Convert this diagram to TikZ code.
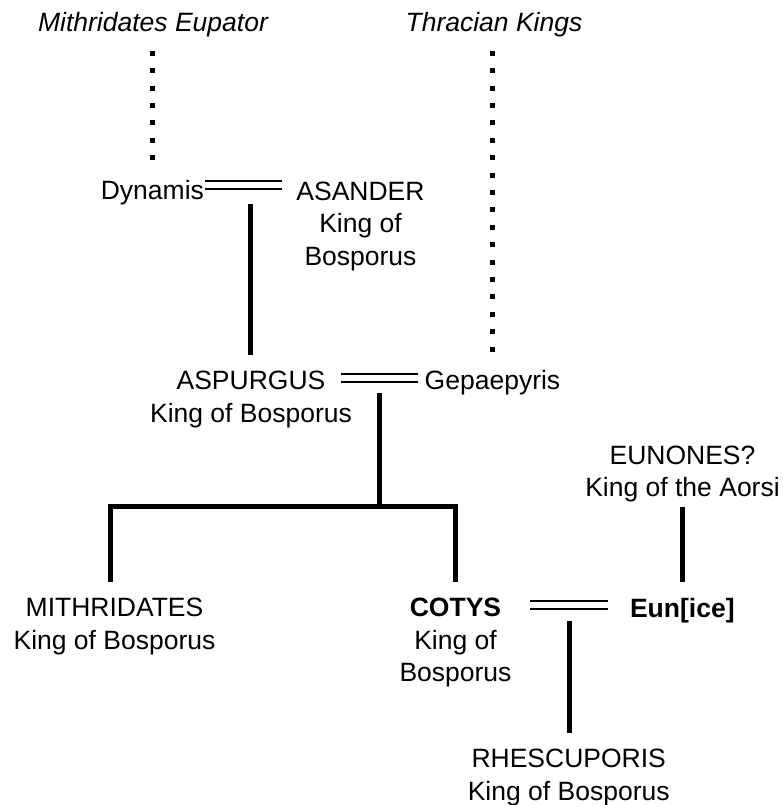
\documentclass[tikz,border=0pt]{standalone}
\usepackage{fontspec}
\setmainfont{Liberation Sans}
\begin{document}
\begin{tikzpicture}[x=1pt,y=-1pt,
  person/.style={anchor=base,align=center,inner sep=0pt,
    font=\fontsize{26.5}{32.5}\selectfont},
  line/.style={line width=5pt},
  wed/.style={line width=1.8pt},
  lineage/.style={line width=5pt,dash pattern=on 5pt off 12.4pt}]
\useasboundingbox (0,0) rectangle (782,805);

% ancestral houses (placed at the baseline of their last line)
\node[person,font=\fontsize{26.5}{32.5}\selectfont\itshape] (eupator) at (153,32) {Mithridates Eupator};
\node[person,font=\fontsize{26.5}{32.5}\selectfont\itshape] (thrace) at (494,32) {Thracian Kings};

% persons
\node[person] (dynamis) at (152.4,200) {Dynamis};
\node[person] (asander) at (360.5,265) {ASANDER\\King of\\Bosporus};
\node[person] (aspurgus) at (251,422) {ASPURGUS\\King of Bosporus};
\node[person] (gepaepyris) at (492.5,389) {Gepaepyris};
\node[person] (eunones) at (682.5,496.7) {EUNONES?\\King of the Aorsi};
\node[person] (mithridates) at (114.5,649) {MITHRIDATES\\King of Bosporus};
\node[person] (cotys) at (455.5,681.7) {\textbf{COTYS}\\King of\\Bosporus};
\node[person] (eunice) at (682.3,617) {\textbf{Eun[ice]}};
\node[person] (rhescuporis) at (568.7,800) {RHESCUPORIS\\King of Bosporus};

% line endpoints
\coordinate (eupatorA) at (152,50.8);   \coordinate (eupatorB) at (152,161);
\coordinate (thraceA) at (492.7,50.8);  \coordinate (thraceB) at (492.7,352.5);
\coordinate (m1L) at (205,0);   \coordinate (m1R) at (282,0);
\coordinate (m2L) at (340.7,0); \coordinate (m2R) at (418,0);
\coordinate (m3L) at (530,0);   \coordinate (m3R) at (607.7,0);
\coordinate (c1top) at (250.7,204);  \coordinate (c1bot) at (250.7,355);
\coordinate (c2top) at (379.3,393);  \coordinate (c2bot) at (379.3,506.7);
\coordinate (brL) at (110,506.7);    \coordinate (brR) at (455.3,506.7);
\coordinate (brLbot) at (110,581.7); \coordinate (brRbot) at (455.3,581.7);
\coordinate (c3top) at (569,620.7);  \coordinate (c3bot) at (569,733.3);
\coordinate (eutop) at (682.5,506.7); \coordinate (eubot) at (682.5,581.7);

% descent from the ancestral houses
\draw[lineage] (eupatorA) -- (eupatorB);
\draw[lineage] (thraceA) -- (thraceB);

% Dynamis = Asander
\draw[wed] (m1L |- 0,181) -- (m1R |- 0,181);
\draw[wed] (m1L |- 0,189) -- (m1R |- 0,189);
\draw[line] (c1top) -- (c1bot);

% Aspurgus = Gepaepyris
\draw[wed] (m2L |- 0,374.3) -- (m2R |- 0,374.3);
\draw[wed] (m2L |- 0,381.7) -- (m2R |- 0,381.7);
\draw[line] (c2top) -- (c2bot);
\draw[line,line join=miter] (brLbot) -- (brL) -- (brR) -- (brRbot);

% Cotys = Eunice
\draw[wed] (m3L |- 0,601) -- (m3R |- 0,601);
\draw[wed] (m3L |- 0,609.3) -- (m3R |- 0,609.3);
\draw[line] (c3top) -- (c3bot);
\draw[line] (eutop) -- (eubot);
\end{tikzpicture}
\end{document}
